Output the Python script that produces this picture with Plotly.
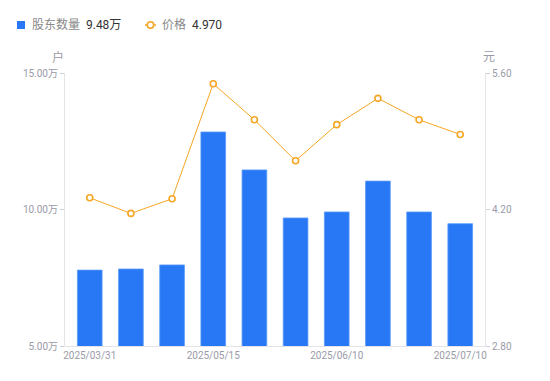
import plotly.graph_objects as go

dates = ["2025/03/31", "2025/04/10", "2025/04/30", "2025/05/15", "2025/05/20",
         "2025/05/30", "2025/06/10", "2025/06/20", "2025/06/30", "2025/07/10"]
holders = [7.78, 7.82, 7.97, 12.84, 11.45, 9.69, 9.91, 11.04, 9.91, 9.48]  # 万户
price = [4.32, 4.16, 4.31, 5.49, 5.12, 4.70, 5.07, 5.34, 5.12, 4.97]
x_ticks = ["2025/03/31", "2025/05/15", "2025/06/10", "2025/07/10"]
left_ticks = [5, 10, 15]
right_ticks = [2.8, 4.2, 5.6]
legend_holders = "9.48万"
legend_price = "4.970"

FONT = "Roboto, 'Noto Sans CJK SC', sans-serif"
BLUE = "#2878F5"
ORANGE = "#F5A623"
GRAY = "#9a9aa8"

W, H = 542, 373
L, R, T, B = 57, 65, 65, 35
PW, PH = W - L - R, H - T - B


def px(X):
    return (X - 8 - L) / PW


def py(Y):
    return 1 - (Y - 8 - T) / PH


fig = go.Figure()
fig.add_trace(go.Bar(
    x=dates, y=holders, name="股东数量",
    marker=dict(color=BLUE, line=dict(width=0.8, color="#5b9af8")), width=0.6, yaxis="y",
))
fig.add_trace(go.Scatter(
    x=dates, y=price, name="价格",
    mode="lines+markers", yaxis="y2",
    line=dict(color=ORANGE, width=1),
    marker=dict(symbol="circle", size=6, color="white", line=dict(color=ORANGE, width=1.6)),
))

shapes = [
    dict(type="rect", xref="paper", yref="paper", x0=px(17), x1=px(25), y0=py(29), y1=py(21),
         fillcolor=BLUE, line=dict(width=0)),
    dict(type="line", xref="paper", yref="paper", x0=px(145), x1=px(156), y0=py(25), y1=py(25),
         line=dict(color=ORANGE, width=1.5)),
    dict(type="circle", xref="paper", yref="paper", xsizemode="pixel", ysizemode="pixel",
         xanchor=px(150.5), yanchor=py(25), x0=-3.2, x1=3.2, y0=-3.2, y1=3.2,
         fillcolor="white", line=dict(color=ORANGE, width=1.6)),
]

annotations = [
    dict(text=f"股东数量  <span style='color:#333'>{legend_holders}</span>",
         xref="paper", yref="paper", x=px(30), y=py(25), xanchor="left", yanchor="middle",
         showarrow=False, font=dict(size=12, color="#888")),
    dict(text=f"价格  <span style='color:#333'>{legend_price}</span>",
         xref="paper", yref="paper", x=px(160), y=py(25), xanchor="left", yanchor="middle",
         showarrow=False, font=dict(size=12, color="#888")),
    dict(text="户", xref="paper", yref="paper", x=px(58), y=py(57),
         xanchor="center", yanchor="middle", showarrow=False,
         font=dict(size=12, color=GRAY)),
    dict(text="元", xref="paper", yref="paper", x=px(489), y=py(57),
         xanchor="center", yanchor="middle", showarrow=False,
         font=dict(size=12, color=GRAY)),
]

fig.update_layout(
    width=W, height=H,
    margin=dict(l=L, r=R, t=T, b=B, autoexpand=False),
    paper_bgcolor="white", plot_bgcolor="white",
    font=dict(family=FONT, size=11, color=GRAY),
    showlegend=False,
    xaxis=dict(type="category", tickmode="array", tickvals=x_ticks, ticktext=x_ticks,
               showgrid=False, showline=True, linecolor="#e3e3e8", linewidth=1,
               ticks="", tickfont=dict(size=10, color=GRAY), automargin=False),
    yaxis=dict(range=[5, 15], tickvals=left_ticks,
               ticktext=[f"{v:.2f}万" for v in left_ticks],
               showgrid=False, showline=True, linecolor="#e3e3e8", linewidth=1,
               ticks="outside", ticklen=4, tickcolor="#d0d0d8",
               tickfont=dict(size=10, color=GRAY), zeroline=False, automargin=False),
    yaxis2=dict(range=[2.8, 5.6], tickvals=right_ticks,
                ticktext=[f"{v:.2f}" for v in right_ticks],
                overlaying="y", side="right",
                showgrid=False, showline=True, linecolor="#e3e3e8", linewidth=1,
                ticks="outside", ticklen=4, tickcolor="#d0d0d8",
                tickfont=dict(size=10, color=GRAY), zeroline=False, automargin=False),
    shapes=shapes,
    annotations=annotations,
)

fig.write_html("out.html")
